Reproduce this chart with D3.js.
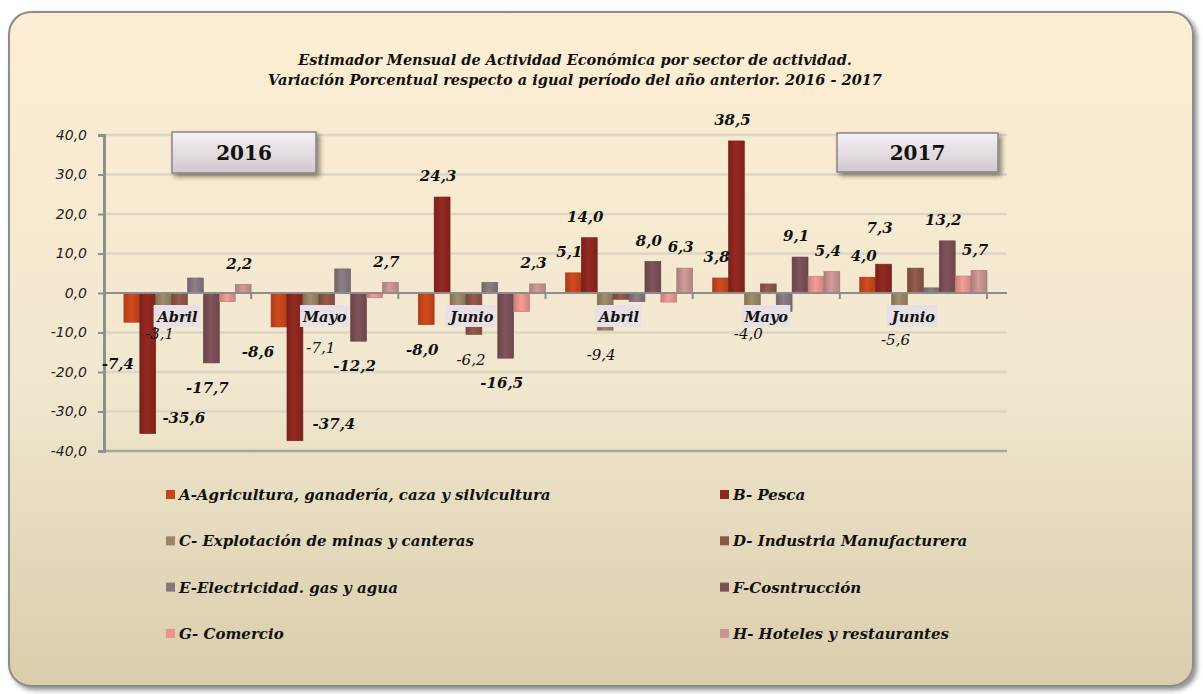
<!DOCTYPE html>
<html>
<head>
<meta charset="utf-8">
<script src="https://cdn.jsdelivr.net/npm/d3@7"></script>
<style>
  html, body { margin: 0; padding: 0; background: #fff; }
  svg { display: block; }
</style>
</head>
<body>
<script>
// categories (one group of bars per month)
const periods = ["Abril 2016", "Mayo 2016", "Junio 2016", "Abril 2017", "Mayo 2017", "Junio 2017"];
const monthLabels = ["Abril", "Mayo", "Junio", "Abril", "Mayo", "Junio"];
const yearLabels = ["2016", "2017"];
const yTicks = [-40, -30, -20, -10, 0, 10, 20, 30, 40];

// sectors
const seriesKeys = ["A", "B", "C", "D", "E", "F", "G", "H"];
const seriesNames = [
  "A-Agricultura, ganadería, caza y silvicultura",
  "B- Pesca",
  "C- Explotación de minas y canteras",
  "D- Industria Manufacturera",
  "E-Electricidad. gas y agua",
  "F-Cosntrucción",
  "G- Comercio",
  "H- Hoteles y restaurantes"
];

// % change vs same month of previous year
const agricultura  = [-7.4, -8.6, -8.0, 5.1, 3.8, 4.0];
const pesca        = [-35.6, -37.4, 24.3, 14.0, 38.5, 7.3];
const minas        = [-3.1, -7.1, -6.2, -9.4, -4.0, -5.6];
const industria    = [-3.2, -3.0, -10.5, -1.6, 2.3, 6.3];
const electricidad = [3.8, 6.1, 2.7, -2.2, -4.7, 1.3];
const construccion = [-17.7, -12.2, -16.5, 8.0, 9.1, 13.2];
const comercio     = [-2.2, -1.2, -4.7, -2.3, 4.2, 4.3];
const hoteles      = [2.2, 2.7, 2.3, 6.3, 5.4, 5.7];

const seriesValues = [agricultura, pesca, minas, industria, electricidad, construccion, comercio, hoteles];
const colors = ["#c9461c", "#8e2720", "#9a8666", "#8d5747", "#86787f", "#7b5056", "#e8958e", "#c8948f"];

// which sectors carry a value label (C is drawn in regular weight)
const labeled = ["A", "B", "C", "F", "H"];
// hand-moved labels in the original: [dx, dy]
const labelShift = {
  "0A": [-10, 17], "0B": [40, -41], "0C": [0, 4],
  "1A": [-17, 0], "1B": [43, -42], "1C": [14, 2],
  "2C": [17, 17],
  "5B": [0, -15]
};

(() => {
  const W = 1203, H = 694;
  const plot = {left: 104, right: 987, gridEnd: 1007, top: 135, bottom: 451};

  const svg = d3.select("body").append("svg")
    .attr("width", W).attr("height", H);
  const defs = svg.append("defs");

  // card background
  const bg = defs.append("linearGradient").attr("id", "bg")
    .attr("x1", 0).attr("y1", 0).attr("x2", 0).attr("y2", 1);
  bg.append("stop").attr("offset", "0%").attr("stop-color", "#fdeed3");
  bg.append("stop").attr("offset", "55%").attr("stop-color", "#f1e7cf");
  bg.append("stop").attr("offset", "100%").attr("stop-color", "#d9cdab");

  const shadow = defs.append("filter").attr("id", "shadow")
    .attr("x", "-5%").attr("y", "-5%").attr("width", "115%").attr("height", "125%");
  shadow.append("feDropShadow").attr("dx", 3).attr("dy", 3).attr("stdDeviation", 2.5)
    .attr("flood-color", "#000").attr("flood-opacity", 0.45);

  const boxGrad = defs.append("linearGradient").attr("id", "boxGrad")
    .attr("x1", 0).attr("y1", 0).attr("x2", 0).attr("y2", 1);
  boxGrad.append("stop").attr("offset", "0%").attr("stop-color", "#f5f1f4");
  boxGrad.append("stop").attr("offset", "100%").attr("stop-color", "#d2c8cd");

  // bar shading, darker at the sides
  seriesKeys.forEach((k, i) => {
    const c = d3.color(colors[i]);
    const g = defs.append("linearGradient").attr("id", "bar" + k)
      .attr("x1", 0).attr("y1", 0).attr("x2", 1).attr("y2", 0);
    g.append("stop").attr("offset", "0%").attr("stop-color", c.darker(0.45));
    g.append("stop").attr("offset", "45%").attr("stop-color", c.brighter(0.15));
    g.append("stop").attr("offset", "100%").attr("stop-color", c.darker(0.35));
  });

  svg.append("rect")
    .attr("x", 9).attr("y", 12).attr("width", 1184).attr("height", 674)
    .attr("rx", 22)
    .attr("fill", "url(#bg)")
    .attr("stroke", "#8c8c8c").attr("stroke-width", 2)
    .attr("filter", "url(#shadow)");

  // title
  const serif = "'DejaVu Serif', 'Liberation Serif', serif";
  const title = svg.append("text")
    .attr("text-anchor", "middle")
    .attr("font-family", serif).attr("font-style", "italic").attr("font-weight", "bold")
    .attr("font-size", 14.5).attr("fill", "#111");
  title.append("tspan").attr("x", 575).attr("y", 65)
    .text("Estimador Mensual de Actividad Económica por sector de actividad.");
  title.append("tspan").attr("x", 575).attr("y", 85)
    .text("Variación Porcentual respecto a igual período del año anterior. 2016 - 2017");

  // scales
  const y = d3.scaleLinear().domain([-40, 40]).range([plot.bottom, plot.top]);
  const x0 = d3.scaleBand().domain(periods).range([plot.left, plot.right]);
  // leading empty slot, as in the original chart
  const x1 = d3.scaleBand().domain(["_"].concat(seriesKeys)).range([4, x0.bandwidth()]);

  // gridlines
  svg.append("g").selectAll("line")
    .data(yTicks.filter(d => d !== 0))
    .join("line")
    .attr("x1", plot.left).attr("x2", plot.gridEnd)
    .attr("y1", d => y(d)).attr("y2", d => y(d))
    .attr("stroke", d => d === -40 ? "#a9a59d" : "#ddd6c4")
    .attr("stroke-width", 2.5);

  // year boxes
  const yearBoxes = [{x: 172, y: 132, w: 144, h: 41}, {x: 837, y: 133, w: 161, h: 39}];
  const yb = svg.append("g").selectAll("g")
    .data(yearLabels)
    .join("g");
  yb.append("rect")
    .attr("x", (d, i) => yearBoxes[i].x).attr("y", (d, i) => yearBoxes[i].y)
    .attr("width", (d, i) => yearBoxes[i].w).attr("height", (d, i) => yearBoxes[i].h)
    .attr("fill", "url(#boxGrad)").attr("stroke", "#8a8187").attr("stroke-width", 1.5)
    .attr("filter", "url(#shadow)");
  yb.append("text")
    .attr("x", (d, i) => yearBoxes[i].x + yearBoxes[i].w / 2)
    .attr("y", (d, i) => yearBoxes[i].y + yearBoxes[i].h / 2 + 7)
    .attr("text-anchor", "middle")
    .attr("font-family", serif).attr("font-weight", "bold").attr("font-size", 20)
    .attr("fill", "#111")
    .text(d => d);

  // bars
  const rows = periods.map((p, pi) => ({
    period: p, pi,
    bars: seriesKeys.map((k, si) => ({key: k, si, pi, value: seriesValues[si][pi]}))
  }));

  const groups = svg.append("g").selectAll("g")
    .data(rows)
    .join("g")
    .attr("transform", d => `translate(${x0(d.period)},0)`);

  groups.selectAll("rect")
    .data(d => d.bars)
    .join("rect")
    .attr("x", d => x1(d.key))
    .attr("width", x1.bandwidth())
    .attr("y", d => y(Math.max(0, d.value)))
    .attr("height", d => Math.abs(y(d.value) - y(0)))
    .attr("fill", d => `url(#bar${d.key})`)
    .attr("stroke", d => d3.color(colors[d.si]).darker(0.6))
    .attr("stroke-width", 0.6);

  // y axis
  const yAxis = svg.append("g")
    .attr("transform", `translate(${plot.left},0)`)
    .call(d3.axisLeft(y).tickValues(yTicks).tickSize(6).tickPadding(11)
      .tickFormat(d => d.toFixed(1).replace(".", ",")));
  yAxis.select(".domain").attr("stroke", "#8f8f8f").attr("stroke-width", 3);
  yAxis.selectAll(".tick line").attr("stroke", "#8f8f8f").attr("stroke-width", 2);
  yAxis.selectAll(".tick text")
    .attr("font-family", "'DejaVu Sans', Verdana, sans-serif")
    .attr("font-style", "italic").attr("font-size", 14).attr("fill", "#222");

  // zero line with category separators
  svg.append("line")
    .attr("x1", plot.left).attr("x2", plot.gridEnd)
    .attr("y1", y(0)).attr("y2", y(0))
    .attr("stroke", "#8c8c8c").attr("stroke-width", 2);
  svg.append("g").selectAll("line")
    .data(periods.slice(1).concat(["end"]))
    .join("line")
    .attr("x1", (d, i) => plot.left + (i + 1) * x0.step())
    .attr("x2", (d, i) => plot.left + (i + 1) * x0.step())
    .attr("y1", y(0)).attr("y2", y(0) + 6)
    .attr("stroke", "#8c8c8c").attr("stroke-width", 2);

  // month labels, drawn over the bars
  const cat = svg.append("g").selectAll("g")
    .data(periods)
    .join("g");
  const catText = cat.append("text")
    .attr("x", d => x0(d) + x0.bandwidth() / 2)
    .attr("y", 322)
    .attr("text-anchor", "middle")
    .attr("font-family", serif).attr("font-style", "italic").attr("font-weight", "bold")
    .attr("font-size", 14.5).attr("fill", "#111")
    .text((d, i) => monthLabels[i]);
  catText.each(function() {
    const b = this.getBBox();
    d3.select(this.parentNode).insert("rect", "text")
      .attr("x", b.x - 2).attr("y", 305)
      .attr("width", b.width + 4).attr("height", 22)
      .attr("fill", "#e8e0e6");
  });

  // value labels
  const fmt = v => v.toFixed(1).replace(".", ",");
  const labelData = rows.flatMap(r => r.bars.filter(b => labeled.includes(b.key)));
  svg.append("g").selectAll("text")
    .data(labelData)
    .join("text")
    .attr("x", d => {
      const s = labelShift[d.pi + d.key] || [0, 0];
      return x0(periods[d.pi]) + x1(d.key) + x1.bandwidth() / 2 - 4 + s[0];
    })
    .attr("y", d => {
      const s = labelShift[d.pi + d.key] || [0, 0];
      const base = d.value >= 0 ? y(d.value) - 21 : y(d.value) + 25;
      return base + s[1];
    })
    .attr("dy", "0.35em")
    .attr("text-anchor", "middle")
    .attr("font-family", serif).attr("font-style", "italic")
    .attr("font-weight", d => d.key === "C" ? "normal" : "bold")
    .attr("font-size", 15).attr("fill", "#111")
    .text(d => fmt(d.value));

  // legend
  const legend = svg.append("g").selectAll("g")
    .data(seriesNames)
    .join("g")
    .attr("transform", (d, i) => `translate(${i % 2 ? 720 : 166},${495 + Math.floor(i / 2) * 46.3})`);
  legend.append("rect")
    .attr("x", 0).attr("y", -5).attr("width", 9).attr("height", 9)
    .attr("fill", (d, i) => colors[i]);
  legend.append("text")
    .attr("x", 13).attr("y", 5)
    .attr("font-family", serif).attr("font-style", "italic").attr("font-weight", "bold")
    .attr("font-size", 15).attr("fill", "#111")
    .text(d => d);
})();
</script>
</body>
</html>
